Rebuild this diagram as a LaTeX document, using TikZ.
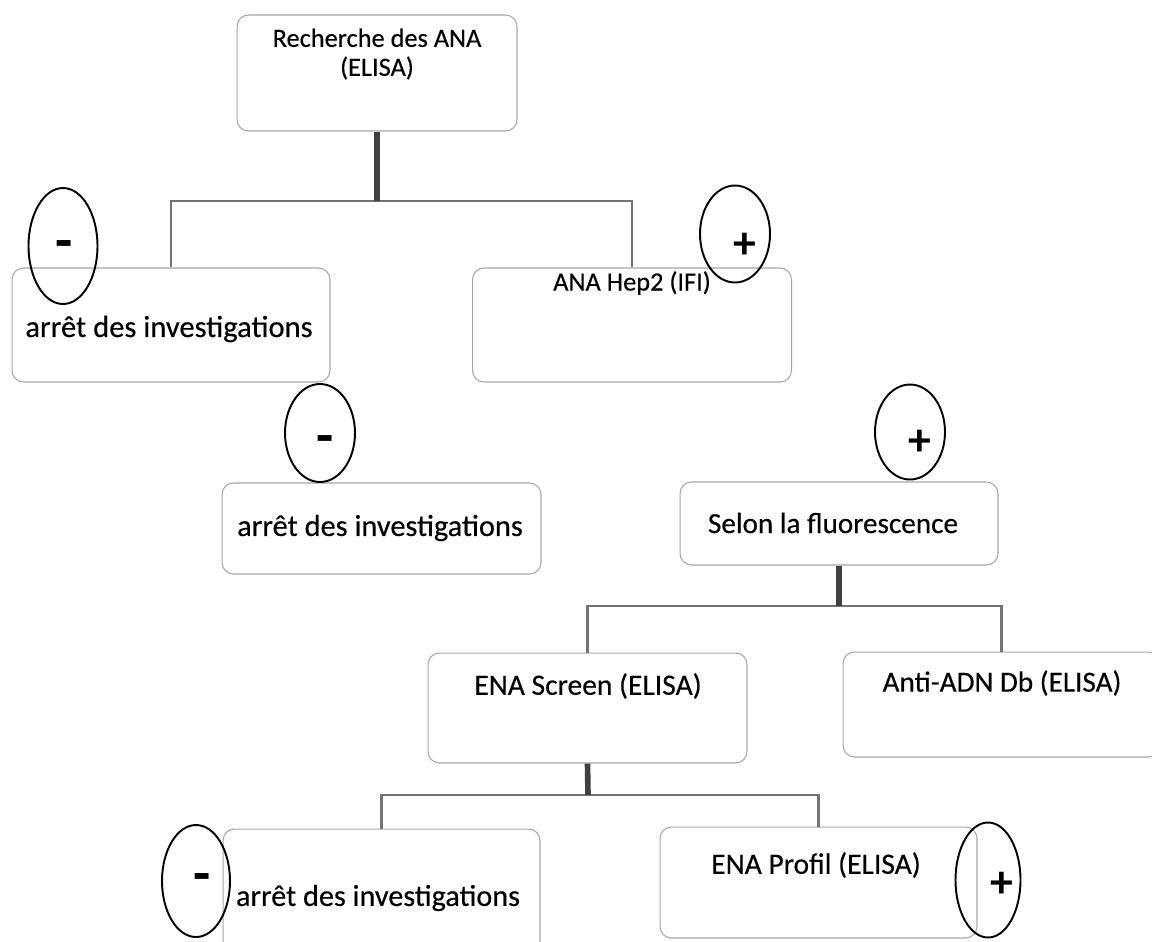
\documentclass[tikz,border=0pt]{standalone}
\usepackage{fontspec}
\setmainfont{Carlito}
\newfontface\inkfont{Carlito}[FakeBold=0.35]
\usetikzlibrary{shapes.geometric}
\newcommand{\fs}[1]{\inkfont\fontsize{#1}{1.1\dimexpr #1pt\relax}\selectfont}
\begin{document}
\begin{tikzpicture}[x=0.02cm,y=-0.02cm,
  stepbox/.style={draw=gray!70, line width=0.6pt, rounded corners=6.5pt, inner sep=0pt},
  lbl/.style={text=black, inner sep=0pt, align=center},
  sign/.style={draw=black, line width=1.1pt, ellipse, inner sep=0pt},
  plus/.style={font=\fontsize{26}{26}\selectfont\bfseries, inner sep=0pt},
  minus/.style={font=\fontsize{32}{32}\selectfont\bfseries, inner sep=0pt},
  stub/.style={draw=black!75, line width=3.2pt},
  wire/.style={draw=black!55, line width=1.4pt}]
\useasboundingbox (0,0) rectangle (1152,941);
\clip (0,0) rectangle (1152,941);

% boxes
\node[stepbox, minimum width=5.6cm,  minimum height=2.32cm] (b1) at (377,73) {};
\node[stepbox, minimum width=6.36cm, minimum height=2.28cm] (b2) at (171,325) {};
\node[stepbox, minimum width=6.38cm, minimum height=2.28cm] (b3) at (632,325) {};
\node[stepbox, minimum width=6.38cm, minimum height=1.82cm] (b4) at (381.5,528.5) {};
\node[stepbox, minimum width=6.36cm, minimum height=1.66cm] (b5) at (839,523.5) {};
\node[stepbox, minimum width=6.38cm, minimum height=2.2cm]  (b6) at (587.5,708) {};
\node[stepbox, minimum width=6.34cm, minimum height=2.1cm]  (b7) at (1001.5,704.5) {};
\node[stepbox, minimum width=6.34cm, minimum height=2.62cm] (b8) at (381.5,894.5) {};
\node[stepbox, minimum width=6.34cm, minimum height=2.22cm] (b9) at (818.5,882.5) {};

% labels
\node[lbl, font=\fs{15}] (t1) at (377,54) {Recherche des ANA\\(ELISA)};
\node[lbl, font=\fs{17.4}] (t2) at (169,329) {arrêt des investigations};
\node[lbl, font=\fs{15}] (t3) at (632,283) {ANA Hep2 (IFI)};
\node[lbl, font=\fs{17.3}] (t4) at (380,528) {arrêt des investigations};
\node[lbl, font=\fs{16.6}] (t5) at (833,523) {Selon la fluorescence};
\node[lbl, font=\fs{16.8}] (t6) at (588,686) {ENA Screen (ELISA)};
\node[lbl, font=\fs{16.6}] (t7) at (1002,683) {Anti-ADN Db (ELISA)};
\node[lbl, font=\fs{17.2}] (t8) at (378,898) {arrêt des investigations};
\node[lbl, font=\fs{16.8}] (t9) at (816,865) {ENA Profil (ELISA)};

% junction points
\coordinate (j1) at (377,201);
\coordinate (j2) at (839,606);
\coordinate (j3) at (588,795);

% connectors
\draw[wire] (b2.north) |- (j1) -| (b3.north);
\draw[stub] (b1.south) -- (j1);
\draw[wire] (b6.north) |- (j2) -| (b7.north);
\draw[stub] (b5.south) -- (j2);
\draw[wire] (b8.north) |- (j3) -| (b9.north);
\draw[stub] (b6.south) -- (j3);

% result signs
\node[sign, minimum width=1.38cm, minimum height=2.32cm] (e1) at (63,246) {};
\node[minus] at (64,250) {-};
\node[sign, minimum width=1.4cm, minimum height=1.94cm] (e2) at (735,234) {};
\node[plus] at (745,246) {+};
\node[sign, minimum width=1.4cm, minimum height=1.96cm] (e3) at (320,433) {};
\node[minus] at (325,445) {-};
\node[sign, minimum width=1.4cm, minimum height=1.9cm] (e4) at (910,432) {};
\node[plus] at (920,443) {+};
\node[sign, minimum width=1.36cm, minimum height=2.24cm] (e5) at (196,881) {};
\node[minus] at (202,883) {-};
\node[sign, minimum width=1.3cm, minimum height=2.3cm] (e6) at (988,880) {};
\node[plus] at (1002,885) {+};
\end{tikzpicture}
\end{document}
